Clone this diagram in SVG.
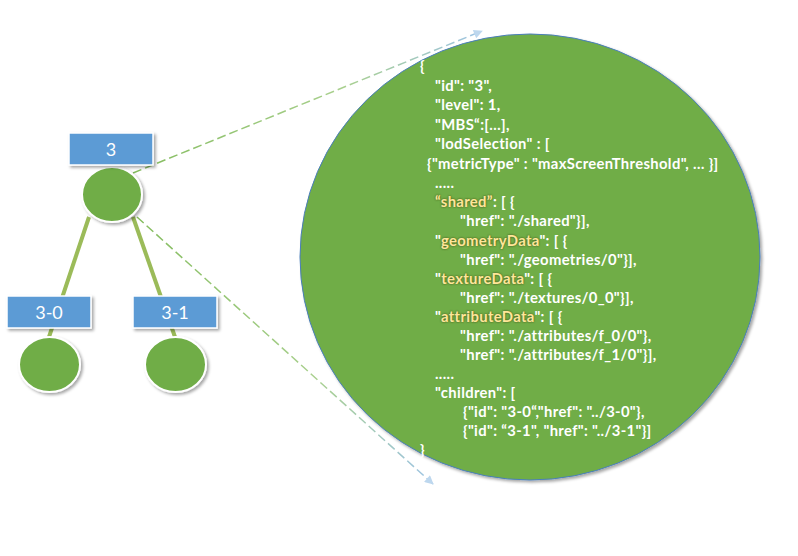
<svg xmlns="http://www.w3.org/2000/svg" width="798" height="556" viewBox="0 0 798 556">
  <defs>
    <style>
      .label-box { fill: #5B9BD5; stroke: #FFFFFF; stroke-width: 1.5; }
      .label-text { font-family: Lato, "Open Sans", sans-serif; font-size: 18px; fill: #FFFFFF; text-anchor: middle; }
      .tile { fill: #70AD47; stroke: #FFFFFF; stroke-width: 2; }
      .tree-edge { stroke: #9BBB59; stroke-width: 4; fill: none; }
      .ref-edge { stroke-width: 1.5; stroke-dasharray: 9 4; fill: none; }
      .json { font-family: Lato, "Open Sans", sans-serif; font-size: 14.8px; font-weight: bold; letter-spacing: 0.35px; fill: #FFFFFF; }
      .key { fill: #FFE699; }
      .glow { font-family: Lato, "Open Sans", sans-serif; font-size: 14.8px; font-weight: bold; letter-spacing: 0.35px; fill: none; }
      .glow .key { fill: #3F4A16; }
    </style>
    <filter id="shadow" x="-20%" y="-20%" width="150%" height="150%">
      <feDropShadow dx="2" dy="2" stdDeviation="1.5" flood-color="#000000" flood-opacity="0.35"/>
    </filter>
    <filter id="soft" x="-5%" y="-20%" width="110%" height="140%">
      <feGaussianBlur stdDeviation="1.2"/>
    </filter>
    <linearGradient id="upGrad" gradientUnits="userSpaceOnUse" x1="133" y1="173" x2="482" y2="31">
      <stop offset="0" stop-color="#84BC5E"/>
      <stop offset="0.6" stop-color="#A9D08E"/>
      <stop offset="1" stop-color="#9DC3E6"/>
    </linearGradient>
    <linearGradient id="downGrad" gradientUnits="userSpaceOnUse" x1="137" y1="217" x2="433" y2="484">
      <stop offset="0" stop-color="#84BC5E"/>
      <stop offset="0.6" stop-color="#A9D08E"/>
      <stop offset="1" stop-color="#9DC3E6"/>
    </linearGradient>
    <marker id="arrow" viewBox="0 0 10 10" refX="9" refY="5" markerWidth="7" markerHeight="6" markerUnits="strokeWidth" orient="auto">
      <path d="M0,0 L10,5 L0,10 z" fill="#BDD7EE"/>
    </marker>
  </defs>

  <rect width="798" height="556" fill="#FFFFFF"/>

  <!-- expanded content of tile 3 -->
  <g id="node-3-detail">
    <ellipse cx="530" cy="257" rx="230" ry="223" fill="#70AD47" stroke="#4A7EBB" stroke-width="1" filter="url(#shadow)"/>
    <!-- soft halo behind highlighted keys -->
    <g class="glow" filter="url(#soft)">
      <text x="435" y="207"><tspan class="key">“shared”</tspan>: [ {</text>
      <text x="435" y="246">"<tspan class="key">geometryData</tspan>": [ {</text>
      <text x="435" y="284">"<tspan class="key">textureData</tspan>": [ {</text>
      <text x="435" y="322">"<tspan class="key">attributeData</tspan>": [ {</text>
    </g>
    <g class="json">
      <text x="420" y="71">{</text>
      <text x="435" y="91">"id": "3",</text>
      <text x="435" y="110">"level": 1,</text>
      <text x="435" y="130">"MBS“:[…],</text>
      <text x="435" y="149">"lodSelection" : [</text>
      <text x="427" y="169">{"metricType" : "maxScreenThreshold", … }]</text>
      <text x="435" y="188">.....</text>
      <text x="435" y="207"><tspan class="key">“shared”</tspan>: [ {</text>
      <text x="460" y="226">"href": "./shared"}],</text>
      <text x="435" y="246">"<tspan class="key">geometryData</tspan>": [ {</text>
      <text x="460" y="265">"href": "./geometries/0"}],</text>
      <text x="435" y="284">"<tspan class="key">textureData</tspan>": [ {</text>
      <text x="460" y="303">"href": "./textures/0_0"}],</text>
      <text x="435" y="322">"<tspan class="key">attributeData</tspan>": [ {</text>
      <text x="460" y="341">"href": "./attributes/f_0/0"},</text>
      <text x="460" y="360">"href": "./attributes/f_1/0"}],</text>
      <text x="435" y="379">.....</text>
      <text x="435" y="398">"children": [</text>
      <text x="463" y="417">{"id": "3-0“,"href": "../3-0"},</text>
      <text x="463" y="436">{"id": “3-1", "href": "../3-1"}]</text>
      <text x="420" y="455">}</text>
    </g>
  </g>

  <!-- parent/child links and the two guide lines to the expanded view -->
  <g id="connectors">
    <line class="tree-edge" x1="89" y1="217" x2="49" y2="337"/>
    <line class="tree-edge" x1="133" y1="217" x2="175" y2="337"/>
    <line class="ref-edge" x1="133" y1="173" x2="482" y2="31" stroke="url(#upGrad)" marker-end="url(#arrow)"/>
    <line class="ref-edge" x1="137" y1="217" x2="433" y2="484" stroke="url(#downGrad)" marker-end="url(#arrow)"/>
  </g>

  <g id="node-3">
    <ellipse class="tile" cx="112" cy="194.5" rx="30" ry="27.5" filter="url(#shadow)"/>
    <rect class="label-box" x="69" y="133" width="84" height="32" filter="url(#shadow)"/>
    <text class="label-text" x="111" y="155.5">3</text>
  </g>

  <g id="node-3-0">
    <ellipse class="tile" cx="49.5" cy="364.5" rx="30.5" ry="27.5" filter="url(#shadow)"/>
    <rect class="label-box" x="7" y="296" width="84" height="32" filter="url(#shadow)"/>
    <text class="label-text" x="49" y="318.5">3-0</text>
  </g>

  <g id="node-3-1">
    <ellipse class="tile" cx="175.5" cy="364.5" rx="30.5" ry="27.5" filter="url(#shadow)"/>
    <rect class="label-box" x="133" y="296" width="84" height="32" filter="url(#shadow)"/>
    <text class="label-text" x="175" y="318.5">3-1</text>
  </g>
</svg>
